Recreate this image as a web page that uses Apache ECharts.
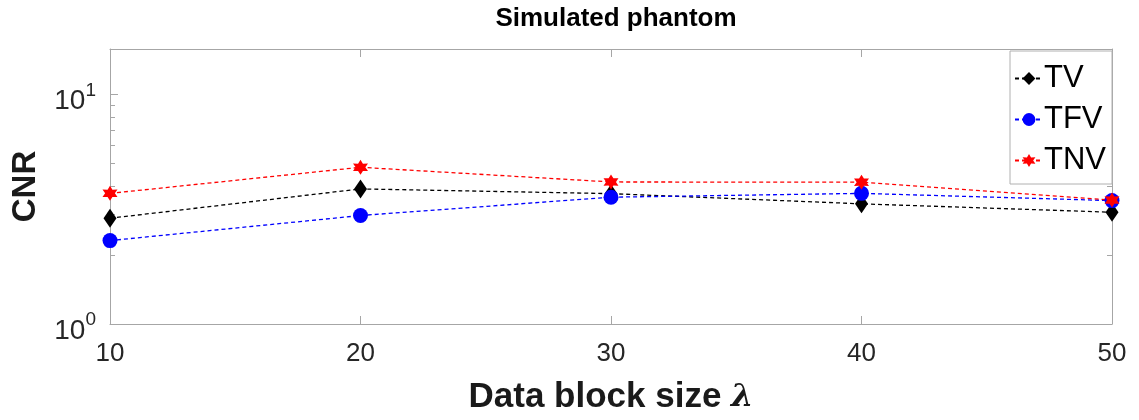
<!DOCTYPE html>
<html>
<head>
<meta charset="utf-8">
<script src="https://cdn.jsdelivr.net/npm/echarts@6/dist/echarts.min.js"></script>
<style>html,body{margin:0;padding:0;background:#fff}#c{width:1139px;height:420px}</style>
</head>
<body>
<div id="c"></div>
<script>
const blockSizes = [10, 20, 30, 40, 50];
const tvValues  = [2.89, 3.88, 3.70, 3.34, 3.07];
const tfvValues = [2.31, 2.97, 3.57, 3.71, 3.45];
const tnvValues = [3.71, 4.82, 4.16, 4.15, 3.47];
const seriesNames = ['TV', 'TFV', 'TNV'];
const yMajorTicks = [1, 10];
const yMinorTicks = [2, 3, 4, 5, 6, 7, 8, 9];

function hexagramPath() {
  const pts = [];
  for (let k = 0; k < 12; k++) {
    const a = (-90 + 30 * k) * Math.PI / 180;
    const r = k % 2 === 0 ? 10 : 5.6;
    pts.push((10 + r * Math.cos(a)).toFixed(2) + ' ' + (10 + r * Math.sin(a)).toFixed(2));
  }
  return 'path://M' + pts.join(' L') + ' Z';
}

const pair = (vals) => blockSizes.map((x, i) => [x, vals[i]]);
const font = 'Liberation Sans, Arial, sans-serif';
const axisGray = '#a6a6a6';
const labelColor = '#262626';

const chart = echarts.init(document.getElementById('c'), null, {renderer: 'canvas'});
const dash = [4, 3];

const option = {
  animation: false,
  backgroundColor: '#fff',
  title: {
    text: 'Simulated phantom',
    left: 611, textAlign: 'center', top: 1,
    textStyle: {fontFamily: font, fontWeight: 'bold', fontSize: 26, color: '#000'}
  },
  grid: {left: 110, right: 27, top: 49, bottom: 96, containLabel: false},
  legend: {
    orient: 'vertical', right: 27, top: 51,
    data: seriesNames,
    itemWidth: 28, itemHeight: 16, itemGap: 10,
    padding: [12, 6, 8, 4],
    borderColor: '#b0b0b0', borderWidth: 1, backgroundColor: '#fff',
    textStyle: {fontFamily: font, fontSize: 31, color: '#000', padding: [0, 0, 0, -4]}
  },
  xAxis: [{
    type: 'value', min: 10, max: 50, interval: 10, position: 'bottom',
    axisLine: {show: true, lineStyle: {color: axisGray}},
    axisTick: {show: true, inside: true, length: 8, lineStyle: {color: axisGray}},
    axisLabel: {fontFamily: font, fontSize: 26, color: labelColor, margin: 17},
    splitLine: {show: false},
    name: 'Data block size {i|λ}', nameLocation: 'middle', nameGap: 56,
    nameTextStyle: {fontFamily: font, fontWeight: 'bold', fontSize: 35, color: '#1a1a1a',
      rich: {i: {fontFamily: 'DejaVu Serif, serif', fontStyle: 'italic', fontSize: 32, color: '#1a1a1a'}}}
  }, {
    type: 'value', min: 10, max: 50, interval: 10, position: 'top',
    axisLine: {show: true, lineStyle: {color: axisGray}},
    axisTick: {show: true, inside: true, length: 8, lineStyle: {color: axisGray}},
    axisLabel: {show: false}, splitLine: {show: false}
  }],
  yAxis: [{
    type: 'log', logBase: 10, min: 1, max: 15.8, position: 'left',
    axisLine: {show: true, lineStyle: {color: axisGray}},
    axisTick: {show: true, inside: true, length: 8, customValues: yMajorTicks, lineStyle: {color: axisGray}},
    axisLabel: {
      customValues: yMajorTicks, margin: 14,
      formatter: (v) => '{b|10}{s|' + Math.round(Math.log10(v)) + '}',
      rich: {
        b: {fontFamily: font, fontSize: 28, color: labelColor, padding: [14, 0, 0, 0]},
        s: {fontFamily: font, fontSize: 19, color: labelColor, padding: [0, 0, 8, 0]}
      }
    },
    splitLine: {show: false},
    name: 'CNR', nameLocation: 'middle', nameGap: 68, nameRotate: 90,
    nameTextStyle: {fontFamily: font, fontWeight: 'bold', fontSize: 33, color: '#1a1a1a'}
  }, {
    type: 'log', logBase: 10, min: 1, max: 15.8, position: 'left',
    axisLine: {show: false},
    axisTick: {show: true, inside: true, length: 5, customValues: yMinorTicks, lineStyle: {color: axisGray}},
    axisLabel: {show: false}, splitLine: {show: false}
  }, {
    type: 'log', logBase: 10, min: 1, max: 15.8, position: 'right',
    axisLine: {show: true, lineStyle: {color: axisGray}},
    axisTick: {show: true, inside: true, length: 8, customValues: yMajorTicks, lineStyle: {color: axisGray}},
    axisLabel: {show: false}, splitLine: {show: false}
  }, {
    type: 'log', logBase: 10, min: 1, max: 15.8, position: 'right',
    axisLine: {show: false},
    axisTick: {show: true, inside: true, length: 5, customValues: yMinorTicks, lineStyle: {color: axisGray}},
    axisLabel: {show: false}, splitLine: {show: false}
  }],
  series: [{
    name: 'TV', type: 'line', data: pair(tvValues),
    symbol: 'diamond', symbolSize: [13, 19],
    itemStyle: {color: '#000'}, lineStyle: {color: '#000', width: 1.3, type: dash}
  }, {
    name: 'TFV', type: 'line', data: pair(tfvValues),
    symbol: 'circle', symbolSize: 15,
    itemStyle: {color: '#0000ff'}, lineStyle: {color: '#0000ff', width: 1.3, type: dash}
  }, {
    name: 'TNV', type: 'line', data: pair(tnvValues),
    symbol: hexagramPath(), symbolSize: 15,
    itemStyle: {color: '#ff0000'}, lineStyle: {color: '#ff0000', width: 1.3, type: dash}
  }]
};
chart.setOption(option);
</script>
</body>
</html>
